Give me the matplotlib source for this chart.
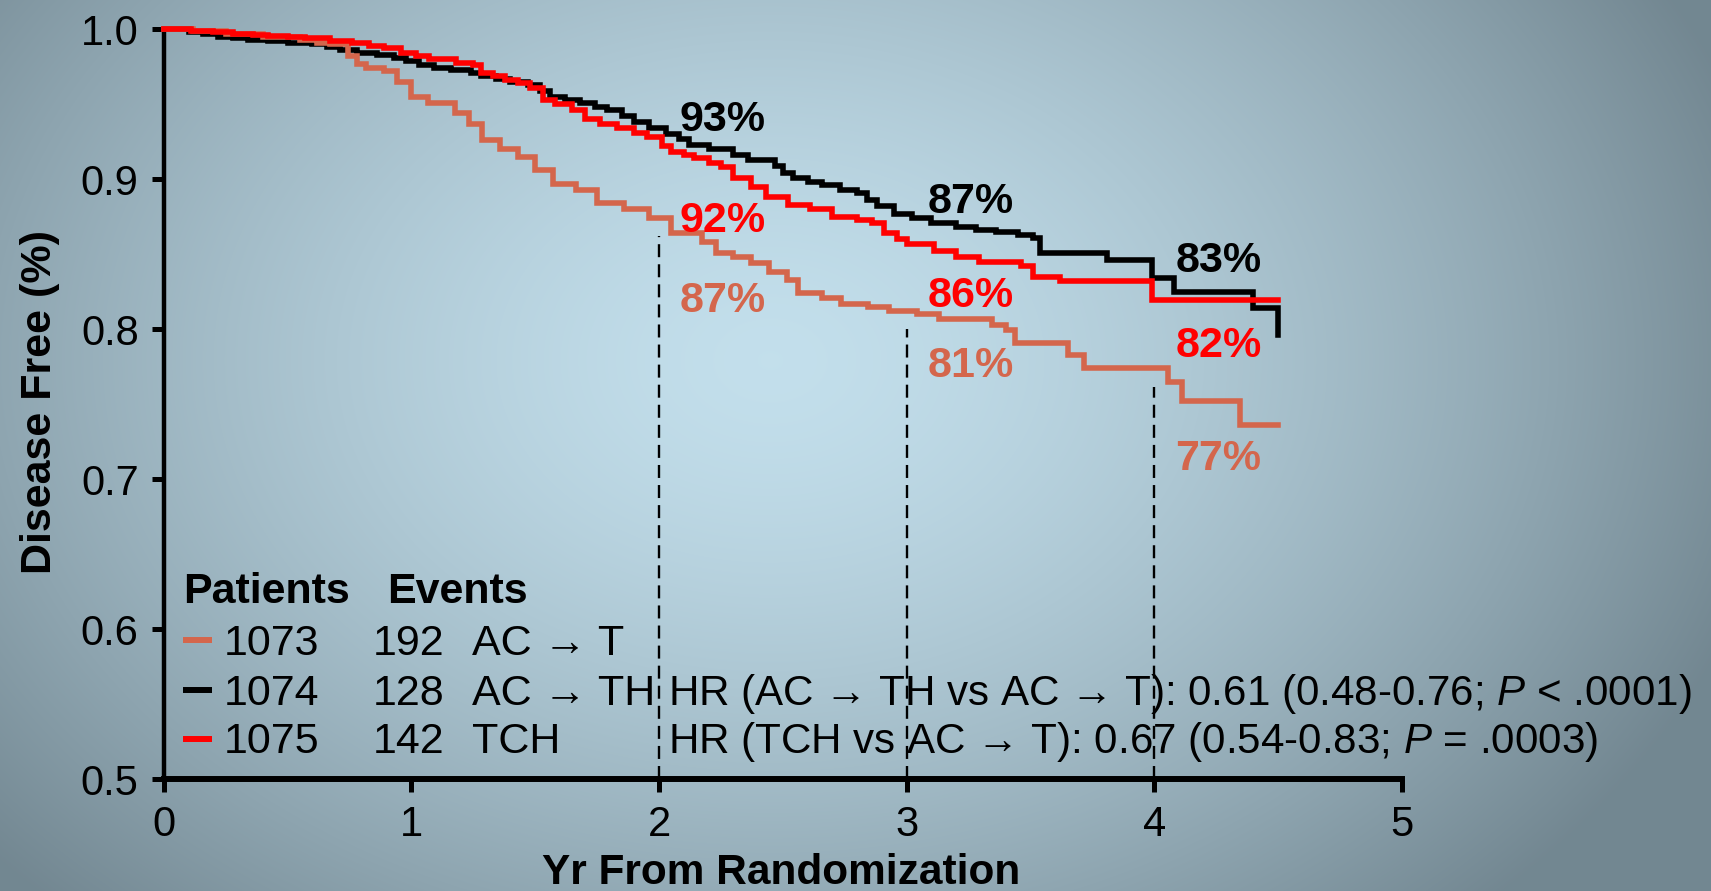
import numpy as np
import matplotlib
matplotlib.use("Agg")
import matplotlib.pyplot as plt

# ---------------- data ----------------
arm_names = ["AC → T", "AC → TH", "TCH"]
patients = [1073, 1074, 1075]
events = [192, 128, 142]
arm_colors = ["#d4664c", "#000000", "#ff0000"]

# Kaplan-Meier step points (years, disease-free proportion)
t_act = [0.00, 0.12, 0.25, 0.40, 0.55, 0.62, 0.67, 0.745, 0.78, 0.817, 0.889, 0.943,
         0.997, 1.069, 1.176, 1.231, 1.285, 1.357, 1.43, 1.50, 1.573, 1.663, 1.75,
         1.86, 1.96, 2.049, 2.175, 2.229, 2.30, 2.373, 2.445, 2.517, 2.562, 2.66,
         2.733, 2.842, 2.93, 3.04, 3.129, 3.346, 3.40, 3.436, 3.652, 3.715, 4.057,
         4.11, 4.346, 4.50]
s_act = [1.000, 0.999, 0.997, 0.995, 0.993, 0.991, 0.990, 0.982, 0.977, 0.974, 0.972, 0.965,
         0.955, 0.951, 0.944, 0.937, 0.926, 0.920, 0.915, 0.906, 0.897, 0.893, 0.884,
         0.880, 0.874, 0.864, 0.858, 0.851, 0.848, 0.844, 0.838, 0.833, 0.824, 0.821,
         0.817, 0.815, 0.812, 0.810, 0.807, 0.803, 0.7995, 0.791, 0.783, 0.774, 0.765,
         0.752, 0.736, 0.736]

t_acth = [0.00, 0.10, 0.16, 0.22, 0.28, 0.34, 0.42, 0.50, 0.60, 0.66, 0.71, 0.78, 0.86,
          0.93, 0.98, 1.03, 1.09, 1.16, 1.24, 1.28, 1.34, 1.40, 1.47, 1.52, 1.56, 1.62,
          1.68, 1.74, 1.79, 1.85, 1.90, 1.96, 2.03, 2.08, 2.12, 2.20, 2.30, 2.36, 2.47,
          2.50, 2.54, 2.60, 2.66, 2.73, 2.80, 2.84, 2.88, 2.95, 3.02, 3.10, 3.20, 3.28,
          3.36, 3.45, 3.51, 3.54, 3.81, 3.99, 4.08, 4.40, 4.50]
s_acth = [1.000, 0.998, 0.997, 0.995, 0.994, 0.993, 0.992, 0.991, 0.990, 0.988, 0.986, 0.984,
          0.983, 0.981, 0.979, 0.976, 0.974, 0.973, 0.971, 0.969, 0.967, 0.965, 0.963,
          0.959, 0.955, 0.953, 0.951, 0.948, 0.946, 0.942, 0.938, 0.934, 0.930, 0.927,
          0.923, 0.920, 0.916, 0.913, 0.909, 0.904, 0.901, 0.898, 0.896, 0.893, 0.891,
          0.886, 0.882, 0.877, 0.874, 0.871, 0.868, 0.866, 0.865, 0.863, 0.861, 0.851,
          0.846, 0.834, 0.825, 0.814, 0.796]

t_tch = [0.00, 0.11, 0.20, 0.28, 0.36, 0.42, 0.50, 0.57, 0.67, 0.76, 0.83, 0.89, 0.96,
         1.02, 1.07, 1.18, 1.25, 1.28, 1.33, 1.38, 1.43, 1.48, 1.53, 1.58, 1.65, 1.70,
         1.76, 1.83, 1.90, 1.95, 2.01, 2.05, 2.10, 2.14, 2.20, 2.25, 2.30, 2.37, 2.43,
         2.52, 2.61, 2.70, 2.80, 2.86, 2.91, 2.96, 3.00, 3.11, 3.20, 3.29, 3.46, 3.51,
         3.62, 3.99, 4.50]
s_tch = [1.000, 0.999, 0.998, 0.997, 0.996, 0.9955, 0.995, 0.994, 0.9925, 0.991, 0.989,
         0.9875, 0.984, 0.982, 0.980, 0.9775, 0.976, 0.971, 0.969, 0.966, 0.964, 0.961,
         0.953, 0.950, 0.946, 0.940, 0.937, 0.934, 0.931, 0.928, 0.922, 0.918, 0.916,
         0.914, 0.911, 0.908, 0.901, 0.895, 0.888, 0.883, 0.880, 0.875, 0.873, 0.871,
         0.864, 0.860, 0.857, 0.852, 0.848, 0.845, 0.842, 0.835, 0.832, 0.8195, 0.8195]

landmark_years = [2, 3, 4]
pct_act = [87, 81, 77]
pct_acth = [93, 87, 83]
pct_tch = [92, 86, 82]
dash_tops = [0.862, 0.800, 0.7615]

hr_texts = ["HR (AC → TH vs AC → T): 0.61 (0.48-0.76; $P$ < .0001)",
            "HR (TCH vs AC → T): 0.67 (0.54-0.83; $P$ = .0003)"]

x_ticks = [0, 1, 2, 3, 4, 5]
y_ticks = [0.5, 0.6, 0.7, 0.8, 0.9, 1.0]

# ---------------- style ----------------
FONT = ["Liberation Sans", "DejaVu Sans"]
plt.rcParams["font.family"] = FONT
plt.rcParams["mathtext.fontset"] = "custom"
plt.rcParams["mathtext.rm"] = "Liberation Sans"
plt.rcParams["mathtext.it"] = "Liberation Sans:italic"

W, H, DPI = 1711, 891, 100
fig = plt.figure(figsize=(W / DPI, H / DPI), dpi=DPI)

# radial backdrop
bg = fig.add_axes([0, 0, 1, 1], zorder=-10)
yy, xx = np.mgrid[0:H, 0:W]
r = np.sqrt(((xx - 770) / (W * 0.60)) ** 2 + ((yy - 360) / (H * 0.85)) ** 2)
f = np.clip(r, 0, 1) ** 1.5
c_in = np.array([0.765, 0.875, 0.925])
c_out = np.array([0.45, 0.53, 0.57])
img = c_in[None, None, :] * (1 - f[..., None]) + c_out[None, None, :] * f[..., None]
bg.imshow(img, aspect="auto", extent=[0, 1, 0, 1], origin="upper")
bg.set_axis_off()

ax = fig.add_axes([0.0957, 0.1257, 0.7237, 0.8413])
ax.set_facecolor("none")
ax.set_xlim(0, 5)
ax.set_ylim(0.5, 1.0)
for s in ("top", "right"):
    ax.spines[s].set_visible(False)
ax.spines["left"].set_linewidth(3.2)
ax.spines["bottom"].set_linewidth(4.3)
ax.set_xticks(x_ticks)
ax.set_xticklabels([str(v) for v in x_ticks])
ax.set_yticks(y_ticks)
ax.set_yticklabels([f"{v:.1f}" for v in y_ticks])
ax.tick_params(axis="both", direction="out", length=9, width=3.6, labelsize=30,
               colors="black")
ax.tick_params(axis="x", pad=10)
ax.tick_params(axis="y", pad=9)

# landmark guides
for yr, top in zip(landmark_years, dash_tops):
    ax.plot([yr, yr], [0.5, top], color="black", lw=1.7, dashes=(5.5, 3.0), zorder=2)

# survival curves
curves = [(t_acth, s_acth, arm_colors[1]), (t_act, s_act, arm_colors[0]),
          (t_tch, s_tch, arm_colors[2])]
for t, s, c in curves:
    ax.step(t, s, where="post", color=c, lw=4.0, clip_on=False, zorder=3,
            solid_joinstyle="miter")

# landmark percentages
pct_kw = dict(fontsize=31, fontweight="bold", ha="left", va="baseline")
off_x = 0.084
top_y = [0.932, 0.8774, 0.8384]
mid_y = [0.865, 0.815, 0.7817]
low_y = [0.8117, 0.7684, 0.7061]
for i, yr in enumerate(landmark_years):
    ax.text(yr + off_x, top_y[i], f"{pct_acth[i]}%", color=arm_colors[1], **pct_kw)
    ax.text(yr + off_x, mid_y[i], f"{pct_tch[i]}%", color=arm_colors[2], **pct_kw)
    ax.text(yr + off_x, low_y[i], f"{pct_act[i]}%", color=arm_colors[0], **pct_kw)

# legend block
ax.text(0.078, 0.6174, "Patients", fontsize=31, fontweight="bold", va="baseline")
ax.text(0.902, 0.6174, "Events", fontsize=31, fontweight="bold", va="baseline")
row_base = [0.5827, 0.5494, 0.5171]
txt_kw = dict(fontsize=31, va="baseline", ha="left", color="black")
for i in range(3):
    yb = row_base[i]
    ax.plot([0.078, 0.196], [yb + 0.0098, yb + 0.0098], color=arm_colors[i], lw=4.3,
            solid_capstyle="butt", zorder=3)
    ax.text(0.242, yb, str(patients[i]), **txt_kw)
    ax.text(0.845, yb, str(events[i]), **txt_kw)
    ax.text(1.246, yb, arm_names[i], **txt_kw)
hr_kw = dict(txt_kw, fontsize=30.3)
for i, h in enumerate(hr_texts):
    ax.text(2.035, row_base[i + 1], h, **hr_kw)

# axis titles
fig.text(781 / W, 1 - 884 / H, "Yr From Randomization", fontsize=30.5,
         fontweight="bold", ha="center", va="baseline")
fig.text(51 / W, 1 - 402 / H, "Disease Free (%)", fontsize=31, fontweight="bold",
         rotation=90, rotation_mode="anchor", ha="center", va="baseline")

fig.savefig("out.png", dpi=DPI)
